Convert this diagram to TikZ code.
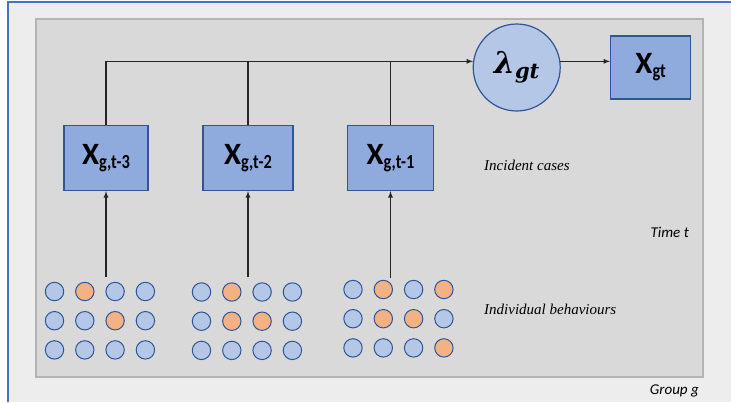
\documentclass[tikz,border=0pt]{standalone}
\usepackage{fontspec}
\usepackage{amsmath,amssymb}
\usepackage{tikz}
\usetikzlibrary{arrows}
\usetikzlibrary{calc,positioning}
\newfontfamily\calibri{Carlito}
\newfontfamily\cambria{Liberation Serif}
\newfontfamily\ratefont{DejaVu Serif}
\definecolor{framebl}{HTML}{4472C4}
\definecolor{pagebg}{HTML}{EDEDED}
\definecolor{groupbg}{HTML}{D9D9D9}
\definecolor{groupln}{HTML}{B3B3B3}
\definecolor{casefill}{HTML}{8FAADC}
\definecolor{lightbl}{HTML}{B4C7E7}
\definecolor{behavor}{HTML}{F4B183}
\definecolor{edgebl}{HTML}{2F5597}
\newcommand{\xlab}[1]{{\calibri\bfseries\fontsize{31}{31}\selectfont X\raisebox{-3.6pt}{\scalebox{0.82}[1]{\fontsize{20}{20}\selectfont #1}}}}

\begin{document}
\begin{tikzpicture}[x=1pt,y=-1pt,
	casebox/.style={draw=edgebl,fill=casefill,line width=1.3pt,minimum height=65pt,inner sep=0pt},
	dotb/.style={circle,draw=edgebl,fill=lightbl,line width=1pt,minimum size=18.4pt,inner sep=0pt},
	doto/.style={dotb,fill=behavor},
	link/.style={line width=1.2pt,draw=black!85},
	note/.style={font=\cambria\itshape\fontsize{15}{16}\selectfont,inner sep=0pt}]
			\useasboundingbox (0,0) rectangle (731,402);
			\fill[white] (0,0) rectangle (731,402);
			\fill[pagebg] (8,2) rectangle (731,402);
			\draw[framebl,line width=1.5pt] (8,402) -- (8,2) -- (731,2);
			\draw[groupln,fill=groupbg,line width=1.5pt] (36,19) rectangle (703,377);
	
			\node[casebox,minimum width=84pt] (x3) at (106,158) {\xlab{g,t-3}};
			\node[casebox,minimum width=90pt] (x2) at (248,158) {\xlab{g,t-2}};
			\node[casebox,minimum width=86pt] (x1) at (390.5,158) {\xlab{g,t-1}};
			\node[circle,draw=edgebl,fill=lightbl,line width=1.2pt,minimum size=87pt,inner sep=0pt,font=\ratefont\bfseries\itshape] (lam) at (516.7,67.5) {\fontsize{30}{30}\selectfont λ\raisebox{-5pt}{\fontsize{21}{22}\selectfont gt}};
			\node[casebox,minimum width=80pt,minimum height=63pt] (xgt) at (650.7,67.4) {\xlab{gt}};
	
			\draw[link,-latex] (x3.north) |- (lam.172);
			\draw[link] (x2.north) -- (x2.north |- lam.172);
			\draw[link] (x1.north) -- (x1.north |- lam.172);
			\draw[link,-latex] (lam.8) -- (lam.8 -| xgt.west);
	
			\coordinate (b3) at ($(x3.south)+(0,86)$);
			\coordinate (b2) at ($(x2.south)+(0,86)$);
			\coordinate (b1) at ($(x1.south)+(0,87)$);
			\draw[link,-latex] (b3) -- (x3.south);
			\draw[link,-latex] (b2) -- (x2.south);
			\draw[link,-latex] (b1) -- (x1.south);
	
			% individual behaviours, b = blue, o = orange
			\foreach \gx/\gy/\n/\cols in {54.5/291.5/a1/{b,o,b,b},54.5/320.7/a2/{b,b,o,b},54.5/349.9/a3/{b,b,b,b},
				201.5/292/b1/{b,o,b,b},201.5/321.2/b2/{b,o,o,b},201.5/350.4/b3/{b,b,b,b},
				353/289.5/c1/{b,o,b,o},353/318.7/c2/{b,o,o,b},353/347.9/c3/{b,b,b,o}}
				\foreach \c [count=\k from 0] in \cols
					\node[dot\c] (dot-\n-\k) at (\gx+30.3*\k,\gy) {};
	
			\node[note,anchor=base west] (inc) at (484,170) {Incident cases};
			\node[note,anchor=base west] (ind) at (484,314) {Individual behaviours};
			\node[anchor=base east,inner sep=0pt,font=\calibri\itshape\fontsize{15}{16}\selectfont] (time) at (689,237) {Time t};
			\node[anchor=base east,inner sep=0pt,font=\calibri\itshape\fontsize{15}{16}\selectfont] (grp) at (699,394) {Group g};
\end{tikzpicture}
\end{document}
